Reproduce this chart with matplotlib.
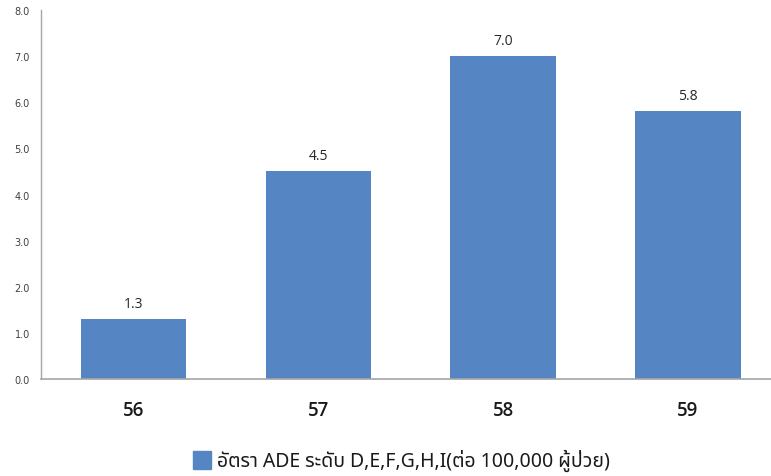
import matplotlib
matplotlib.use("Agg")
import matplotlib.pyplot as plt
from matplotlib.patches import Rectangle

categories = ["56", "57", "58", "59"]
values = [1.3, 4.5, 7.0, 5.8]
yticks = [0.0, 1.0, 2.0, 3.0, 4.0, 5.0, 6.0, 7.0, 8.0]
legend_label = "อัตรา ADE ระดับ D,E,F,G,H,I(ต่อ 100,000 ผู้ป่วย)"

W, H = 771, 477
fig = plt.figure(figsize=(W / 100, H / 100), dpi=100)
ax = fig.add_axes([41 / W, (H - 380) / H, (771 - 41) / W, (380 - 11) / H])

color = "#5585C2"
x = list(range(len(categories)))
bars = ax.bar(x, values, width=0.57, color=color, zorder=2)

for xi, v in zip(x, values):
    ax.annotate(f"{v:.1f}", (xi, v), xytext=(0, 6), textcoords="offset points",
                ha="center", va="bottom", fontsize=10, color="#262626",
                family=["Open Sans", "DejaVu Sans"])

ax.set_xlim(-0.5, 3.45)
ax.set_ylim(0, 8)
ax.set_yticks(yticks)
ax.set_yticklabels([f"{t:.1f}" for t in yticks], fontsize=7, color="#404040")
ax.set_xticks(x)
ax.set_xticklabels(categories, fontsize=13.5, color="#1a1a1a", fontweight="semibold",
                   family=["Open Sans", "DejaVu Sans"])
ax.tick_params(axis="x", length=0, pad=15)
ax.tick_params(axis="y", length=0, pad=8)

for s in ["top", "right"]:
    ax.spines[s].set_visible(False)
ax.spines["left"].set_color("#a6a6a6")
ax.spines["bottom"].set_color("#a6a6a6")
ax.spines["left"].set_linewidth(1)
ax.spines["bottom"].set_linewidth(1.2)

# legend
fig.patches.append(Rectangle((193 / W, (H - 470) / H), 18 / W, 18 / H,
                             transform=fig.transFigure, color=color))
fig.text(217 / W, (H - 461) / H, legend_label, fontsize=14, va="center", ha="left",
         color="#1a1a1a",
         family=["Noto Sans Thai", "Noto Sans Thai Looped", "Loma", "Garuda", "Tahoma", "Noto Sans", "DejaVu Sans"])

fig.savefig("out.png", dpi=100)
